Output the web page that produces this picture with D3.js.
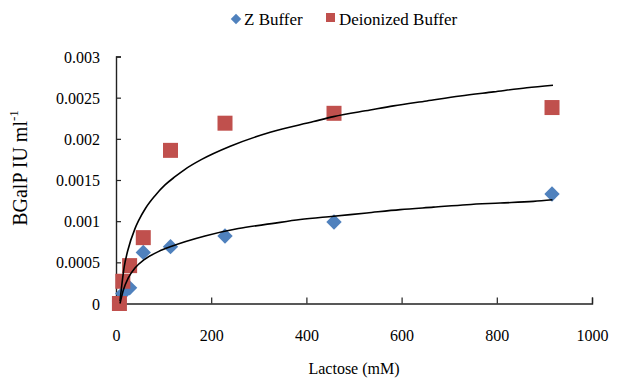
<!DOCTYPE html>
<html>
<head>
<meta charset="utf-8">
<script src="https://cdn.jsdelivr.net/npm/d3@7"></script>
<style>
  body { margin: 0; background: #fff; }
  svg text { font-family: "Liberation Serif", "Times New Roman", serif !important; fill: #000; }
</style>
</head>
<body>
<div id="chart"></div>
<script>
// lactose concentrations (mM)
var lactose = [7.2, 14.3, 28.6, 57.3, 114.5, 229, 458, 916];
// BGalP IU ml-1
var zBuffer = [0.00003, 0.00012, 0.00019, 0.00062, 0.00069, 0.00082, 0.00099, 0.00133];
var deionized = [0.00000, 0.00027, 0.00046, 0.00080, 0.00186, 0.00219, 0.00231, 0.00238];

// trendlines
var zFitX = [8.4, 15.3, 25.9, 39.9, 61, 89, 117, 187, 257, 327, 387, 457, 527, 597, 667, 737, 807, 877, 917];
var zFit = [0, 0.00016, 0.00031, 0.00043, 0.00054, 0.00063, 0.000695, 0.00082, 0.00091, 0.00097, 0.00102, 0.00106, 0.00110, 0.00114, 0.00117, 0.00120, 0.00122, 0.00124, 0.00126];
var dFitX = [8.4, 17.4, 24.6, 39.9, 46.9, 62.4, 82, 103, 124, 145, 180, 240, 324, 415, 457, 534, 583, 653, 723, 793, 863, 918];
var dFit = [0.00003, 0.00045, 0.00064, 0.00091, 0.00100, 0.00116, 0.00131, 0.00144, 0.00154, 0.00163, 0.00175, 0.00191, 0.00208, 0.00221, 0.00227, 0.00235, 0.00240, 0.00246, 0.00252, 0.00257, 0.00262, 0.00265];

var xTicks = [0, 200, 400, 600, 800, 1000];
var yTicks = [0, 0.0005, 0.001, 0.0015, 0.002, 0.0025, 0.003];

var width = 635, height = 381;
var margin = {left: 116, right: 43, top: 56.5, bottom: 77.5};
var serif = "'Liberation Serif', 'Times New Roman', serif";

var svg = d3.select("#chart").append("svg")
    .attr("width", width)
    .attr("height", height);

var x = d3.scaleLinear().domain([0, 1000]).range([margin.left, width - margin.right]);
var y = d3.scaleLinear().domain([0, 0.003]).range([height - margin.bottom, margin.top]);

// axes (ticks point inward)
var xAxis = svg.append("g")
    .attr("transform", "translate(0," + y(0) + ")")
    .call(d3.axisBottom(x).tickValues(xTicks).tickSize(-6).tickPadding(26).tickFormat(d3.format("d")));
var yAxis = svg.append("g")
    .attr("transform", "translate(" + x(0) + ",0)")
    .call(d3.axisLeft(y).tickValues(yTicks).tickSize(-5).tickPadding(16).tickFormat(function(d) { return d === 0 ? "0" : String(+d.toFixed(4)); }));

[xAxis, yAxis].forEach(function(g) {
  g.attr("font-family", serif);
  g.select(".domain").attr("stroke", "#222").attr("stroke-width", 1.4);
  g.selectAll(".tick line").attr("stroke", "#222").attr("stroke-width", 1.2);
  g.selectAll("text").attr("font-size", 16).style("font-family", serif).attr("fill", "#000");
});
yAxis.selectAll("text").attr("dy", "0.35em");

// markers
var diamond = d3.symbol().type(d3.symbolDiamond2).size(150);
svg.append("g").selectAll("path")
    .data(lactose)
    .enter().append("path")
    .attr("d", diamond)
    .attr("transform", function(d, i) { return "translate(" + x(d) + "," + y(zBuffer[i]) + ")"; })
    .attr("fill", "#4F81BD");

svg.append("g").selectAll("rect")
    .data(lactose)
    .enter().append("rect")
    .attr("x", function(d) { return x(d) - 7.5; })
    .attr("y", function(d, i) { return y(deionized[i]) - 7.5; })
    .attr("width", 15)
    .attr("height", 15)
    .attr("fill", "#C0504D");

// trendlines
var line = d3.line()
    .x(function(d) { return x(d[0]); })
    .y(function(d) { return y(d[1]); })
    .curve(d3.curveMonotoneX);

svg.append("path")
    .datum(zFitX.map(function(v, i) { return [v, zFit[i]]; }))
    .attr("d", line)
    .attr("fill", "none")
    .attr("stroke", "#000")
    .attr("stroke-width", 1.6);

svg.append("path")
    .datum(dFitX.map(function(v, i) { return [v, dFit[i]]; }))
    .attr("d", line)
    .attr("fill", "none")
    .attr("stroke", "#000")
    .attr("stroke-width", 1.6);

// axis titles
svg.append("text")
    .attr("x", (x(0) + x(1000)) / 2)
    .attr("y", 374)
    .attr("text-anchor", "middle")
    .attr("font-size", 16)
    .style("font-family", serif)
    .text("Lactose (mM)");

var yt = svg.append("text")
    .attr("transform", "translate(27,168) rotate(-90)")
    .attr("text-anchor", "middle")
    .attr("font-size", 20)
    .style("font-family", serif);
yt.append("tspan").text("BGalP IU ml");
yt.append("tspan").attr("font-size", 13).attr("dy", "-0.7em").text("-1");

// legend
var legend = svg.append("g").style("font-family", serif);
legend.append("path")
    .attr("d", d3.symbol().type(d3.symbolDiamond2).size(70))
    .attr("transform", "translate(236,19)")
    .attr("fill", "#4F81BD");
legend.append("text")
    .attr("x", 244)
    .attr("y", 25)
    .attr("font-size", 17)
    .text("Z Buffer");
legend.append("rect")
    .attr("x", 326)
    .attr("y", 13)
    .attr("width", 9)
    .attr("height", 9)
    .attr("fill", "#C0504D");
legend.append("text")
    .attr("x", 339)
    .attr("y", 25)
    .attr("font-size", 17)
    .text("Deionized Buffer");
</script>
</body>
</html>
